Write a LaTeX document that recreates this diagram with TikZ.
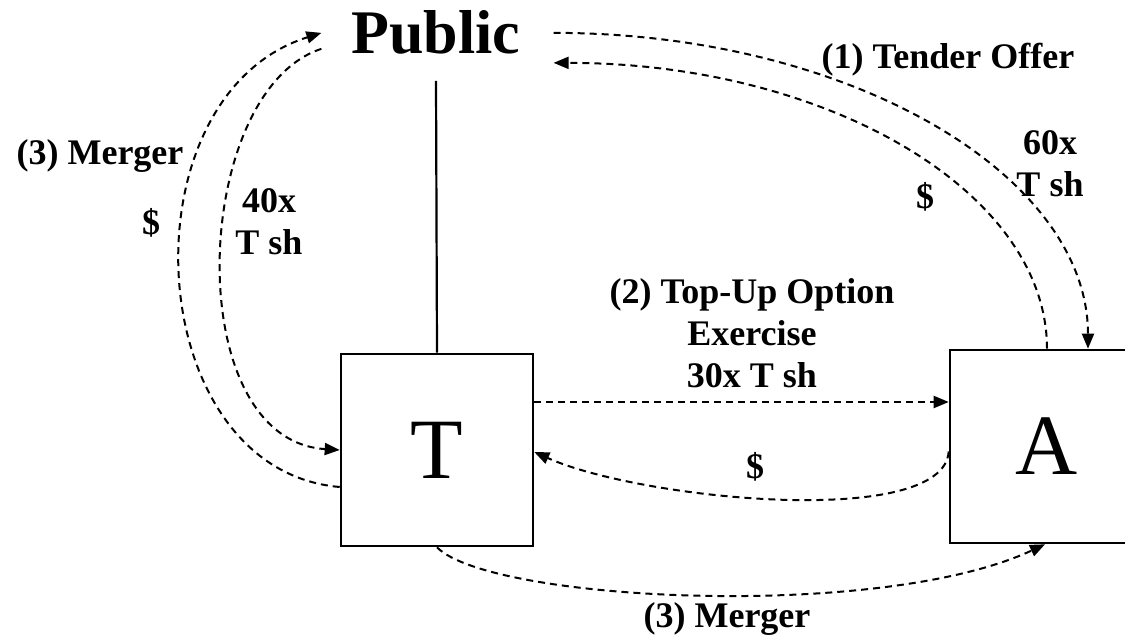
\documentclass[tikz,border=0pt]{standalone}
\usepackage{fontspec}
\setmainfont{Liberation Serif}
\usetikzlibrary{arrows.meta, positioning, calc}

\begin{document}
\begin{tikzpicture}[
                x=1pt, y=1pt,
                party/.style={rectangle, draw, line width=2.6pt, minimum width=192pt, minimum height=192pt, inner sep=0pt, font=\fontsize{86}{86}\selectfont},
                label/.style={inner sep=0pt, align=center, font=\fontsize{36}{42}\selectfont\bfseries},
                flow/.style={line width=2pt, dash pattern=on 7pt off 5pt, -{Triangle[length=15pt, width=12pt]}}
            ]
                \clip[use as bounding box] (0,0) rectangle (1125,635);
                \node[inner sep=0pt, anchor=base, font=\fontsize{62}{62}\selectfont\bfseries] (public) at (436,581) {Public};
                \node[party] (target) at (437,185) {T};
                \node[party, minimum width=194pt, minimum height=193pt] (acquirer) at (1047,188.5) {A};

                \node[label, anchor=base] (tender) at (948,566) {(1) Tender Offer};
                \node[label, anchor=base] (sixty) at (1050,438) {60x\\T sh};
                \node[label] (cashA) at (925,438) {\$};
                \node[label, anchor=base] (topup) at (752,247) {(2) Top-Up Option\\Exercise\\30x T sh};
                \node[label] (cashT) at (755,168) {\$};
                \node[label, anchor=base] (mergerB) at (727,8) {(3) Merger};
                \node[label, anchor=base] (mergerL) at (100,470) {(3) Merger};
                \node[label] (cashP) at (151,412) {\$};
                \node[label, anchor=base] (forty) at (269,380) {40x\\T sh};

                \draw[line width=2.2pt] ([yshift=-26pt]public.south) -- (target.north);

                \draw[flow] ([xshift=33pt]public.east) .. controls +(294,0) and +(0,175) .. ([xshift=41pt]acquirer.north);
                \draw[flow] (acquirer.north) .. controls +(0,158) and +(272,0) .. ([xshift=33pt,yshift=-30pt]public.east);

                \draw[flow] ([yshift=-37pt]target.west) .. controls +(-200,17) and +(-200,-63) .. ([xshift=-30pt]public.west);
                \draw[flow] ([xshift=-30pt,yshift=-16pt]public.west) .. controls +(-130,-42) and +(-161,10) .. (target.west);

                \draw[flow] ([yshift=48pt]target.east) -- ([yshift=48pt]target.east -| acquirer.west);
                \draw[flow] ([yshift=-5pt]acquirer.west) .. controls +(-5,-78) and +(107,-48) .. ([yshift=-2pt]target.east);

                \draw[flow] (target.south) .. controls +(53,-54) and +(-165,-77) .. ([xshift=-2pt]acquirer.south);
            \end{tikzpicture}
\end{document}
